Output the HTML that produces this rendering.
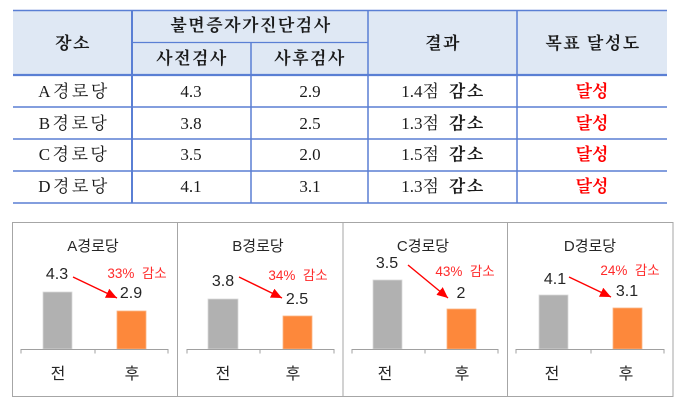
<!DOCTYPE html>
<html><head><meta charset="utf-8"><style>
html,body{margin:0;padding:0;background:#fff;}
svg{display:block;}
.t{font-family:"Liberation Serif","Noto Serif CJK SC","Noto Serif CJK KR",serif;font-size:17px;fill:#1a1a1a;}
.h{font-weight:bold;letter-spacing:1.5px;}
.c{font-family:"Liberation Sans","Noto Sans CJK KR",sans-serif;fill:#262626;}
.p{font-family:"Liberation Sans","Noto Sans CJK KR",sans-serif;fill:#ff2a2a;font-size:13.5px;}
</style></head><body>
<svg width="682" height="402" viewBox="0 0 682 402" xmlns="http://www.w3.org/2000/svg">
<defs>
<marker id="ah" markerUnits="userSpaceOnUse" markerWidth="12" markerHeight="10" refX="11" refY="5" orient="auto">
<path d="M0,0 L11,5 L0,10 z" fill="#ff0000"/>
</marker>
</defs>
<!-- TABLE -->
<rect x="13" y="10" width="654" height="65" fill="#dfe8f4"/>
<g stroke="#5a7fd4" fill="none">
<line x1="13" y1="10.5" x2="667" y2="10.5" stroke-width="1.5"/>
<line x1="132" y1="42.5" x2="368" y2="42.5" stroke-width="1.3"/>
<line x1="13" y1="75" x2="667" y2="75" stroke-width="2.2"/>
<line x1="13" y1="107" x2="667" y2="107" stroke-width="1.5"/>
<line x1="13" y1="139" x2="667" y2="139" stroke-width="1.5"/>
<line x1="13" y1="171" x2="667" y2="171" stroke-width="1.5"/>
<line x1="13" y1="203" x2="667" y2="203" stroke-width="1.5"/>
<line x1="132" y1="10" x2="132" y2="203" stroke-width="2"/>
<line x1="251" y1="42" x2="251" y2="203" stroke-width="1.5"/>
<line x1="368" y1="10" x2="368" y2="203" stroke-width="1.5"/>
<line x1="517" y1="10" x2="517" y2="203" stroke-width="1.5"/>
</g>
<g class="t" text-anchor="middle">
<text class="h" x="73" y="49">장소</text>
<text class="h" x="251" y="31">불면증자가진단검사</text>
<text class="h" x="192" y="64">사전검사</text>
<text class="h" x="310" y="64">사후검사</text>
<text class="h" x="443" y="49">결과</text>
<text class="h" x="593" y="49">목표 달성도</text>

<text x="74" y="97" letter-spacing="2.5">A경로당</text>
<text x="74" y="129" letter-spacing="2.5">B경로당</text>
<text x="74" y="160" letter-spacing="2.5">C경로당</text>
<text x="74" y="192" letter-spacing="2.5">D경로당</text>

<text x="191" y="97">4.3</text>
<text x="191" y="129">3.8</text>
<text x="191" y="160">3.5</text>
<text x="191" y="192">4.1</text>

<text x="310" y="97">2.9</text>
<text x="310" y="129">2.5</text>
<text x="310" y="160">2.0</text>
<text x="310" y="192">3.1</text>

<text x="443" y="97">1.4점 <tspan font-weight="bold" letter-spacing="1.5">&#160;감소</tspan></text>
<text x="443" y="129">1.3점 <tspan font-weight="bold" letter-spacing="1.5">&#160;감소</tspan></text>
<text x="443" y="160">1.5점 <tspan font-weight="bold" letter-spacing="1.5">&#160;감소</tspan></text>
<text x="443" y="192">1.3점 <tspan font-weight="bold" letter-spacing="1.5">&#160;감소</tspan></text>

<g font-weight="bold">
<text x="592" y="97" style="fill:#ff0000">달성</text>
<text x="592" y="129" style="fill:#ff0000">달성</text>
<text x="592" y="160" style="fill:#ff0000">달성</text>
<text x="592" y="192" style="fill:#ff0000">달성</text>
</g>
</g>

<!-- CHART PANELS -->
<g stroke="#a6a6a6" fill="none" stroke-width="1">
<rect x="12.5" y="222.5" width="660.5" height="174"/>
<line x1="177.5" y1="222.5" x2="177.5" y2="396.5"/>
<line x1="343" y1="222.5" x2="343" y2="396.5"/>
<line x1="507.5" y1="222.5" x2="507.5" y2="396.5"/>
</g>

<!-- bars -->
<g stroke="#d9d9d9" stroke-width="0.8">
<rect x="43" y="292" width="29" height="57" fill="#b1b1b1"/>
<rect x="208" y="299" width="30" height="50" fill="#b1b1b1"/>
<rect x="373" y="280" width="29" height="69" fill="#b1b1b1"/>
<rect x="539" y="295" width="29" height="54" fill="#b1b1b1"/>
</g>
<g stroke="#fbb586" stroke-width="0.8">
<rect x="117" y="311" width="29" height="38" fill="#fd883b"/>
<rect x="283" y="316" width="29" height="33" fill="#fd883b"/>
<rect x="447" y="309" width="29" height="40" fill="#fd883b"/>
<rect x="613" y="308" width="29" height="41" fill="#fd883b"/>
</g>

<!-- axes -->
<g stroke="#a0a0a0" stroke-width="1" fill="none">
<path d="M21,353.5 V349.5 H168 V353.5 M95,349.5 V353.5"/>
<path d="M187,353.5 V349.5 H334 V353.5 M260,349.5 V353.5"/>
<path d="M352,353.5 V349.5 H498 V353.5 M425,349.5 V353.5"/>
<path d="M516,353.5 V349.5 H664 V353.5 M591,349.5 V353.5"/>
</g>

<!-- arrows -->
<g stroke="#ff0000" stroke-width="1.4" fill="none">
<line x1="73" y1="277" x2="117" y2="298" marker-end="url(#ah)"/>
<line x1="239" y1="277" x2="282" y2="298" marker-end="url(#ah)"/>
<line x1="408" y1="265" x2="448" y2="298" marker-end="url(#ah)"/>
<line x1="569" y1="277" x2="611" y2="297" marker-end="url(#ah)"/>
</g>

<!-- chart text -->
<g class="c" text-anchor="middle">
<text x="93" y="251" font-size="15">A경로당</text>
<text x="258" y="251" font-size="15">B경로당</text>
<text x="423" y="251" font-size="15">C경로당</text>
<text x="590" y="251" font-size="15">D경로당</text>

<text x="57" y="279" font-size="16">4.3</text>
<text x="131" y="298" font-size="16">2.9</text>
<text x="223" y="286" font-size="16">3.8</text>
<text x="297" y="304" font-size="16">2.5</text>
<text x="387" y="268" font-size="16">3.5</text>
<text x="461" y="298" font-size="16">2</text>
<text x="555" y="284" font-size="16">4.1</text>
<text x="627" y="296" font-size="16">3.1</text>

<text x="58" y="379" font-size="16">전</text>
<text x="132" y="379" font-size="16">후</text>
<text x="223" y="379" font-size="16">전</text>
<text x="293" y="379" font-size="16">후</text>
<text x="385" y="379" font-size="16">전</text>
<text x="462" y="379" font-size="16">후</text>
<text x="552" y="379" font-size="16">전</text>
<text x="626" y="379" font-size="16">후</text>
</g>
<g class="p" text-anchor="middle">
<text x="137" y="278">33%&#160; 감소</text>
<text x="298" y="280">34%&#160; 감소</text>
<text x="465" y="276">43%&#160; 감소</text>
<text x="630" y="275">24%&#160; 감소</text>
</g>
</svg>
</body></html>
